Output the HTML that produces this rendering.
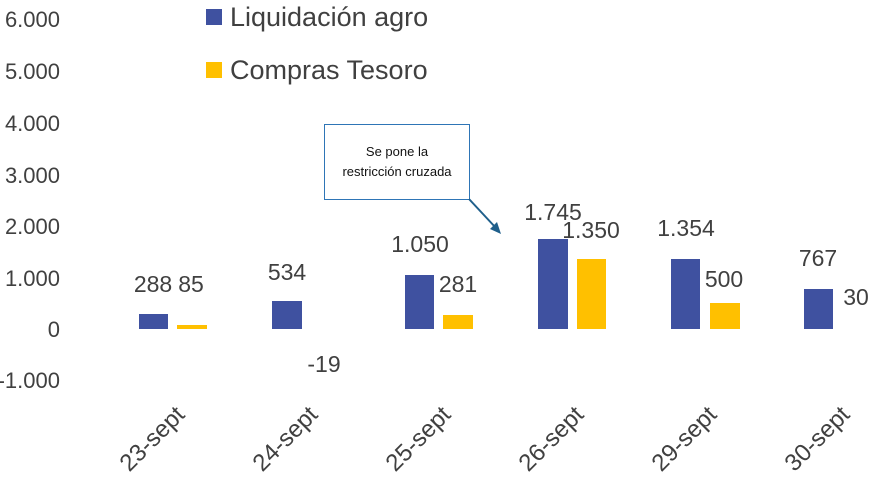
<!DOCTYPE html>
<html><head><meta charset="utf-8"><style>body{margin:0;background:#fff}svg{display:block}text{font-family:"Liberation Sans",sans-serif;fill:#404040}</style></head><body>
<svg width="886" height="493" viewBox="0 0 886 493" xmlns="http://www.w3.org/2000/svg">
<g font-size="22" text-anchor="end">
<text x="60" y="27">6.000</text><text x="60" y="79">5.000</text><text x="60" y="131">4.000</text>
<text x="60" y="183">3.000</text><text x="60" y="234">2.000</text><text x="60" y="286">1.000</text>
<text x="60" y="337">0</text><text x="60" y="388">-1.000</text></g>
<g fill="#3f51a0">
<rect x="139" y="314" width="29" height="15"/><rect x="272" y="301" width="30" height="28"/>
<rect x="405" y="275" width="29" height="54"/><rect x="538" y="239" width="30" height="90"/>
<rect x="671" y="259" width="29" height="70"/><rect x="804" y="289" width="29" height="40"/></g>
<g fill="#ffc000">
<rect x="177" y="325" width="30" height="4"/>
<rect x="443" y="315" width="30" height="14"/><rect x="577" y="259" width="29" height="70"/>
<rect x="710" y="303" width="30" height="26"/></g>
<g font-size="23" text-anchor="middle">
<text x="153" y="292">288</text><text x="191" y="292">85</text><text x="287" y="280">534</text>
<text x="324" y="372">-19</text><text x="420" y="252">1.050</text><text x="458" y="292">281</text>
<text x="553" y="220">1.745</text><text x="591" y="238">1.350</text><text x="686" y="236">1.354</text>
<text x="724" y="287">500</text><text x="818" y="266">767</text><text x="856" y="305">30</text></g>
<g font-size="24" text-anchor="end">
<text transform="translate(186,416) rotate(-45)">23-sept</text>
<text transform="translate(319,416) rotate(-45)">24-sept</text>
<text transform="translate(452,416) rotate(-45)">25-sept</text>
<text transform="translate(585,416) rotate(-45)">26-sept</text>
<text transform="translate(718,416) rotate(-45)">29-sept</text>
<text transform="translate(851,416) rotate(-45)">30-sept</text></g>
<rect x="206" y="9" width="16" height="16" fill="#3f51a0"/><text x="230" y="26" font-size="27">Liquidación agro</text>
<rect x="206" y="62" width="16" height="16" fill="#ffc000"/><text x="230" y="79" font-size="27">Compras Tesoro</text>
<rect x="324.5" y="124.5" width="145" height="75" fill="#fff" stroke="#2e75b6"/>
<g font-size="13" text-anchor="middle"><text x="397" y="156" style="fill:#111">Se pone la</text><text x="397" y="176" style="fill:#111">restricción cruzada</text></g>
<line x1="469" y1="199" x2="496" y2="228" stroke="#1f5f8b" stroke-width="2"/>
<polygon points="501,234 490,229 497,222" fill="#1f5f8b"/>
</svg></body></html>
